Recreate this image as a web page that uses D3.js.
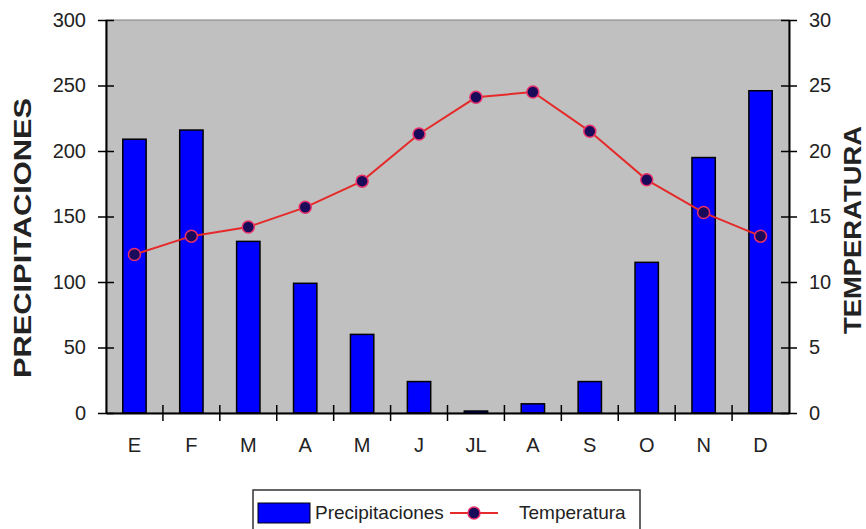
<!DOCTYPE html>
<html>
<head>
<meta charset="utf-8">
<script src="https://cdn.jsdelivr.net/npm/d3@7/dist/d3.min.js"></script>
<style>
    html, body { margin: 0; padding: 0; background: #fff; }
    svg text { font-family: Arial, "Liberation Sans", sans-serif; fill: #222; }
</style>
</head>
<body>
<div id="chart"></div>
<script>
var months = ["E", "F", "M", "A", "M", "J", "JL", "A", "S", "O", "N", "D"];
var precipitaciones = [209, 216, 131, 99, 60, 24, 1.5, 7, 24, 115, 195, 246];
var temperatura = [12.1, 13.5, 14.2, 15.7, 17.7, 21.3, 24.1, 24.5, 21.5, 17.8, 15.3, 13.5];
var precipTicks = [0, 50, 100, 150, 200, 250, 300];
var tempTicks = [0, 5, 10, 15, 20, 25, 30];

var chart = (function () {
    var w = 866,
        h = 529,
        m = { top: 20, right: 77, bottom: 116, left: 106 };

    return {
        draw: function (sel) {
            var svg = d3.select(sel).append("svg").attr("width", w).attr("height", h),
                iw = w - m.left - m.right,
                ih = h - m.top - m.bottom,
                g = svg.append("g").attr("transform", "translate(" + m.left + "," + m.top + ")");

            var x = d3.scaleBand().domain(d3.range(months.length)).range([0, iw]).paddingInner(0.59).paddingOuter(0.295),
                xb = d3.scaleBand().domain(d3.range(months.length)).range([0, iw]),
                yL = d3.scaleLinear().domain([0, 300]).range([ih, 0]),
                yR = d3.scaleLinear().domain([0, 30]).range([ih, 0]);

            // plot area
            g.append("rect").attr("width", iw).attr("height", ih).attr("fill", "#c0c0c0").attr("stroke", "#808080").attr("stroke-width", 1);

            // bars
            g.selectAll(".bar")
                .data(precipitaciones)
                .enter()
                .append("rect")
                .attr("class", "bar")
                .attr("x", function (d, i) { return x(i); })
                .attr("y", function (d) { return yL(d); })
                .attr("width", x.bandwidth())
                .attr("height", function (d) { return ih - yL(d); })
                .attr("fill", "#0000ff")
                .attr("stroke", "#000")
                .attr("stroke-width", 1.5);

            // axes
            var left = g.append("g").call(d3.axisLeft(yL).tickValues(precipTicks).tickSizeInner(8).tickSizeOuter(0).tickPadding(12));
            var right = g.append("g").attr("transform", "translate(" + iw + ",0)").call(d3.axisRight(yR).tickValues(tempTicks).tickSizeInner(8).tickSizeOuter(0).tickPadding(12));
            var bottom = g.append("g").attr("transform", "translate(0," + ih + ")")
                .call(d3.axisBottom(xb).tickFormat(function (i) { return months[i]; }).tickSize(0).tickPadding(25));

            [left, right, bottom].forEach(function (a) {
                a.select(".domain").attr("stroke", "#000").attr("stroke-width", 2);
                a.selectAll("line").attr("stroke", "#000").attr("stroke-width", 1.5);
                a.selectAll("text").attr("font-size", 20).attr("fill", "#222");
            });
            // crossing ticks
            left.selectAll(".tick line").attr("x2", -8).attr("x1", 8);
            right.selectAll(".tick line").attr("x1", -8).attr("x2", 8);

            // category boundary ticks
            g.append("g")
                .selectAll("line")
                .data(d3.range(1, months.length))
                .enter()
                .append("line")
                .attr("x1", function (i) { return xb(i); })
                .attr("x2", function (i) { return xb(i); })
                .attr("y1", ih - 8)
                .attr("y2", ih + 8)
                .attr("stroke", "#000")
                .attr("stroke-width", 1.5);

            // temperature line
            var line = d3.line()
                .x(function (d, i) { return xb(i) + xb.bandwidth() / 2; })
                .y(function (d) { return yR(d); });
            g.append("path").datum(temperatura).attr("d", line).attr("fill", "none").attr("stroke", "#e52a2a").attr("stroke-width", 2);
            g.selectAll(".dot")
                .data(temperatura)
                .enter()
                .append("circle")
                .attr("class", "dot")
                .attr("cx", function (d, i) { return xb(i) + xb.bandwidth() / 2; })
                .attr("cy", function (d) { return yR(d); })
                .attr("r", 6)
                .attr("fill", "#1a0a5a")
                .attr("stroke", "#e8306a")
                .attr("stroke-width", 1.5);

            // axis titles
            svg.append("text")
                .attr("transform", "translate(31,238) rotate(-90)")
                .attr("text-anchor", "middle")
                .attr("font-size", 23)
                .attr("font-weight", "bold")
                .attr("fill", "#111")
                .attr("textLength", 280)
                .attr("lengthAdjust", "spacingAndGlyphs")
                .text("PRECIPITACIONES");
            svg.append("text")
                .attr("transform", "translate(861,230) rotate(-90)")
                .attr("text-anchor", "middle")
                .attr("font-size", 23)
                .attr("font-weight", "bold")
                .attr("fill", "#111")
                .attr("textLength", 208)
                .attr("lengthAdjust", "spacingAndGlyphs")
                .text("TEMPERATURA");

            // legend
            var lg = svg.append("g").attr("transform", "translate(253,490)");
            lg.append("rect").attr("width", 387).attr("height", 50).attr("fill", "#fff").attr("stroke", "#333").attr("stroke-width", 1.5);
            lg.append("rect").attr("x", 5).attr("y", 13).attr("width", 52).attr("height", 20).attr("fill", "#0000ff").attr("stroke", "#000").attr("stroke-width", 1);
            lg.append("text").attr("x", 62).attr("y", 29).attr("font-size", 19).text("Precipitaciones");
            lg.append("line").attr("x1", 197).attr("x2", 245).attr("y1", 23).attr("y2", 23).attr("stroke", "#e52a2a").attr("stroke-width", 2);
            lg.append("circle").attr("cx", 221).attr("cy", 23).attr("r", 6).attr("fill", "#1a0a5a").attr("stroke", "#e8306a").attr("stroke-width", 1.5);
            lg.append("text").attr("x", 266).attr("y", 29).attr("font-size", 19).text("Temperatura");
        }
    };
})();

chart.draw("#chart");
</script>
</body>
</html>
